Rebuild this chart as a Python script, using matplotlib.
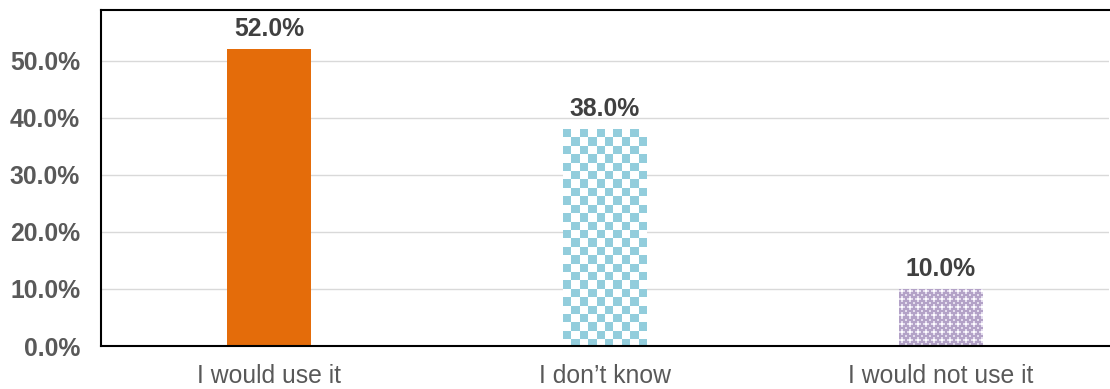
import numpy as np
import matplotlib.pyplot as plt
from matplotlib.colors import to_rgb
from matplotlib.ticker import PercentFormatter

categories = ["I would use it", "I don\u2019t know", "I would not use it"]
values = [0.52, 0.38, 0.10]
labels = ["52.0%", "38.0%", "10.0%"]
yticks = [0.0, 0.1, 0.2, 0.3, 0.4, 0.5]

plt.rcParams['font.family'] = ['Liberation Sans', 'DejaVu Sans']

fig = plt.figure(figsize=(11.1, 3.89), dpi=100)
ax = fig.add_axes([0.091, 0.1105, 0.908, 0.8635])

x = np.arange(len(categories)) + 0.5
bars = ax.bar(x, values, width=0.25, color=["#E46C0A", "white", "white"], zorder=2)

ax.set_xlim(0, 3)
ax.set_ylim(0, 0.589)


def pattern_fill(bar, tile, cell_px):
    # fill a bar with a repeated pixel tile, clipped to the bar
    x0, y0 = bar.get_x(), bar.get_y()
    w, h = bar.get_width(), bar.get_height()
    p0 = ax.transData.transform((x0, y0))
    p1 = ax.transData.transform((x0 + w, y0 + h))
    nx = int(np.ceil((p1[0] - p0[0]) / cell_px)) + 1
    ny = int(np.ceil((p1[1] - p0[1]) / cell_px)) + 1
    th, tw = tile.shape[:2]
    img = np.tile(tile, (ny // th + 1, nx // tw + 1, 1))[:ny, :nx]
    dx = nx * cell_px / (p1[0] - p0[0]) * w
    dy = ny * cell_px / (p1[1] - p0[1]) * h
    im = ax.imshow(img, extent=(x0, x0 + dx, y0 + h - dy, y0 + h), origin="upper",
                   interpolation="nearest", aspect="auto", zorder=2.5)
    im.set_clip_path(bar)


blue = np.array(to_rgb("#92CDDC"))
white = np.ones(3)
checker = np.array([[blue, white], [white, blue]])
pattern_fill(bars[1], checker, 8.4)

purple = np.array(to_rgb("#B3A2C7"))
light = np.array(to_rgb("#E4DDEE"))
lattice = np.array([
    [purple, light, purple, purple],
    [light, white, light, purple],
    [purple, light, purple, purple],
    [purple, purple, purple, light],
])
pattern_fill(bars[2], lattice, 2.0)

ax.set_xlim(0, 3)
ax.set_ylim(0, 0.589)

for xi, v, lab in zip(x, values, labels):
    ax.annotate(lab, (xi, v), xytext=(0, 6), textcoords="offset points",
                ha="center", va="bottom", fontsize=17.8, fontweight="bold", color="#404040")

ax.set_yticks(yticks)
ax.yaxis.set_major_formatter(PercentFormatter(1.0, decimals=1))
ax.set_xticks(x)
ax.set_xticklabels(categories)
ax.tick_params(axis="y", length=0, pad=15, labelsize=17.8, labelcolor="#595959")
ax.tick_params(axis="x", length=0, pad=13, labelsize=17.8, labelcolor="#595959")
for t in ax.get_yticklabels():
    t.set_fontweight("bold")

ax.grid(axis="y", color="#D9D9D9", linewidth=1, zorder=0)
ax.set_axisbelow(True)
ax.spines["right"].set_visible(False)
for s in ["left", "top", "bottom"]:
    ax.spines[s].set_color("black")
    ax.spines[s].set_linewidth(1.5)

fig.savefig("out.png", dpi=100)
